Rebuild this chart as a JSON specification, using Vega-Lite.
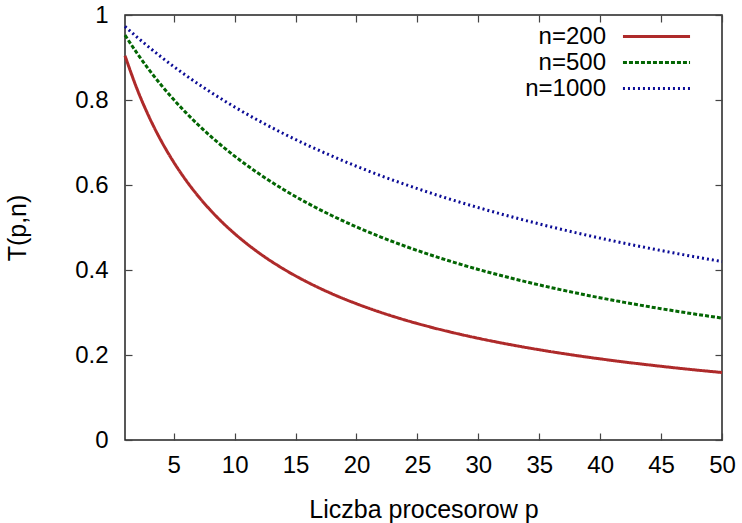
{
  "$schema": "https://vega.github.io/schema/vega-lite/v6.json",
  "width": 597,
  "height": 425,
  "autosize": {"type": "none"},
  "padding": {"left": 125, "top": 15, "right": 20, "bottom": 83},
  "config": {
    "view": {"stroke": "#222222", "strokeWidth": 1.5},
    "font": "Liberation Sans",
    "axis": {"labelFont": "Liberation Sans", "titleFont": "Liberation Sans", "labelFontSize": 24, "titleFontSize": 25, "labelColor": "#000", "titleColor": "#000", "titleFontWeight": "normal", "grid": false, "domain": false, "tickColor": "#444", "tickWidth": 1.2, "labelFlush": false}
  },
  "resolve": {"axis": {"x": "independent", "y": "independent"}},
  "data": {"values": [
    {"p": 1, "T": 0.9042, "s": "n=200"}, {"p": 2, "T": 0.8251, "s": "n=200"}, {"p": 3, "T": 0.7588, "s": "n=200"}, {"p": 4, "T": 0.7023, "s": "n=200"}, {"p": 5, "T": 0.6537, "s": "n=200"}, {"p": 6, "T": 0.6113, "s": "n=200"}, {"p": 7, "T": 0.5741, "s": "n=200"}, {"p": 8, "T": 0.5412, "s": "n=200"}, {"p": 9, "T": 0.5118, "s": "n=200"}, {"p": 10, "T": 0.4855, "s": "n=200"}, {"p": 12, "T": 0.4402, "s": "n=200"}, {"p": 14, "T": 0.4026, "s": "n=200"}, {"p": 16, "T": 0.371, "s": "n=200"}, {"p": 18, "T": 0.3439, "s": "n=200"}, {"p": 20, "T": 0.3206, "s": "n=200"}, {"p": 22, "T": 0.3002, "s": "n=200"}, {"p": 24, "T": 0.2822, "s": "n=200"}, {"p": 26, "T": 0.2663, "s": "n=200"}, {"p": 28, "T": 0.2521, "s": "n=200"}, {"p": 30, "T": 0.2393, "s": "n=200"}, {"p": 33, "T": 0.2224, "s": "n=200"}, {"p": 36, "T": 0.2077, "s": "n=200"}, {"p": 39, "T": 0.1948, "s": "n=200"}, {"p": 42, "T": 0.1835, "s": "n=200"}, {"p": 45, "T": 0.1734, "s": "n=200"}, {"p": 48, "T": 0.1643, "s": "n=200"}, {"p": 50, "T": 0.1588, "s": "n=200"},
    {"p": 1, "T": 0.9526, "s": "n=500"}, {"p": 2, "T": 0.9096, "s": "n=500"}, {"p": 3, "T": 0.8702, "s": "n=500"}, {"p": 4, "T": 0.8341, "s": "n=500"}, {"p": 5, "T": 0.8009, "s": "n=500"}, {"p": 6, "T": 0.7702, "s": "n=500"}, {"p": 7, "T": 0.7418, "s": "n=500"}, {"p": 8, "T": 0.7154, "s": "n=500"}, {"p": 9, "T": 0.6909, "s": "n=500"}, {"p": 10, "T": 0.6679, "s": "n=500"}, {"p": 12, "T": 0.6263, "s": "n=500"}, {"p": 14, "T": 0.5896, "s": "n=500"}, {"p": 16, "T": 0.5569, "s": "n=500"}, {"p": 18, "T": 0.5277, "s": "n=500"}, {"p": 20, "T": 0.5014, "s": "n=500"}, {"p": 22, "T": 0.4776, "s": "n=500"}, {"p": 24, "T": 0.4559, "s": "n=500"}, {"p": 26, "T": 0.4362, "s": "n=500"}, {"p": 28, "T": 0.418, "s": "n=500"}, {"p": 30, "T": 0.4013, "s": "n=500"}, {"p": 33, "T": 0.3787, "s": "n=500"}, {"p": 36, "T": 0.3584, "s": "n=500"}, {"p": 39, "T": 0.3402, "s": "n=500"}, {"p": 42, "T": 0.3238, "s": "n=500"}, {"p": 45, "T": 0.3089, "s": "n=500"}, {"p": 48, "T": 0.2953, "s": "n=500"}, {"p": 50, "T": 0.2869, "s": "n=500"},
    {"p": 1, "T": 0.9731, "s": "n=1000"}, {"p": 2, "T": 0.9476, "s": "n=1000"}, {"p": 3, "T": 0.9235, "s": "n=1000"}, {"p": 4, "T": 0.9005, "s": "n=1000"}, {"p": 5, "T": 0.8786, "s": "n=1000"}, {"p": 6, "T": 0.8578, "s": "n=1000"}, {"p": 7, "T": 0.8379, "s": "n=1000"}, {"p": 8, "T": 0.819, "s": "n=1000"}, {"p": 9, "T": 0.8009, "s": "n=1000"}, {"p": 10, "T": 0.7835, "s": "n=1000"}, {"p": 12, "T": 0.751, "s": "n=1000"}, {"p": 14, "T": 0.7211, "s": "n=1000"}, {"p": 16, "T": 0.6934, "s": "n=1000"}, {"p": 18, "T": 0.6679, "s": "n=1000"}, {"p": 20, "T": 0.6441, "s": "n=1000"}, {"p": 22, "T": 0.6219, "s": "n=1000"}, {"p": 24, "T": 0.6013, "s": "n=1000"}, {"p": 26, "T": 0.5819, "s": "n=1000"}, {"p": 28, "T": 0.5638, "s": "n=1000"}, {"p": 30, "T": 0.5468, "s": "n=1000"}, {"p": 33, "T": 0.5231, "s": "n=1000"}, {"p": 36, "T": 0.5013, "s": "n=1000"}, {"p": 39, "T": 0.4813, "s": "n=1000"}, {"p": 42, "T": 0.4629, "s": "n=1000"}, {"p": 45, "T": 0.4458, "s": "n=1000"}, {"p": 48, "T": 0.4299, "s": "n=1000"}, {"p": 50, "T": 0.4199, "s": "n=1000"}
  ]},
  "layer": [
    {
      "mark": {"type": "line", "interpolate": "monotone", "strokeCap": "butt"},
      "encoding": {
        "x": {"field": "p", "type": "quantitative", "scale": {"domain": [1, 50], "nice": false, "zero": false},
              "axis": {"orient": "bottom", "values": [5, 10, 15, 20, 25, 30, 35, 40, 45, 50], "tickSize": -7, "labelPadding": 20, "title": "Liczba procesorow p", "titlePadding": 20}},
        "y": {"field": "T", "type": "quantitative", "scale": {"domain": [0, 1], "nice": false},
              "axis": {"orient": "left", "values": [0, 0.2, 0.4, 0.6, 0.8, 1], "format": "~g", "tickSize": -7, "labelPadding": 24, "title": "T(p,n)", "titlePadding": 44}},
        "color": {"field": "s", "type": "nominal", "sort": ["n=200", "n=500", "n=1000"],
                  "scale": {"domain": ["n=200", "n=500", "n=1000"], "range": ["#ae2a2a", "#036603", "#0c0c96"]},
                  "legend": {"title": null, "orient": "none", "legendX": 519.5, "legendY": 9.5, "padding": 0, "symbolType": "M-5,0H5", "symbolSize": 180, "symbolStrokeWidth": 3, "labelAlign": "right", "labelOffset": -62.5, "labelFontSize": 24, "labelFont": "Liberation Sans", "labelColor": "#000", "rowPadding": 2}},
        "strokeDash": {"field": "s", "type": "nominal", "sort": ["n=200", "n=500", "n=1000"],
                  "scale": {"domain": ["n=200", "n=500", "n=1000"], "range": [[1, 0], [4, 2], [2, 3]]}, "legend": null},
        "strokeWidth": {"field": "s", "type": "nominal", "scale": {"domain": ["n=200", "n=500", "n=1000"], "range": [3, 3, 2.6]}, "legend": null}
      }
    },
    {
      "mark": {"type": "rule", "opacity": 0},
      "encoding": {
        "x": {"field": "p", "type": "quantitative", "axis": {"orient": "top", "values": [5, 10, 15, 20, 25, 30, 35, 40, 45, 50], "tickSize": -7, "labels": false, "title": null}},
        "y": {"field": "T", "type": "quantitative", "axis": {"orient": "right", "values": [0, 0.2, 0.4, 0.6, 0.8, 1], "tickSize": -7, "labels": false, "title": null}}
      }
    }
  ]
}
